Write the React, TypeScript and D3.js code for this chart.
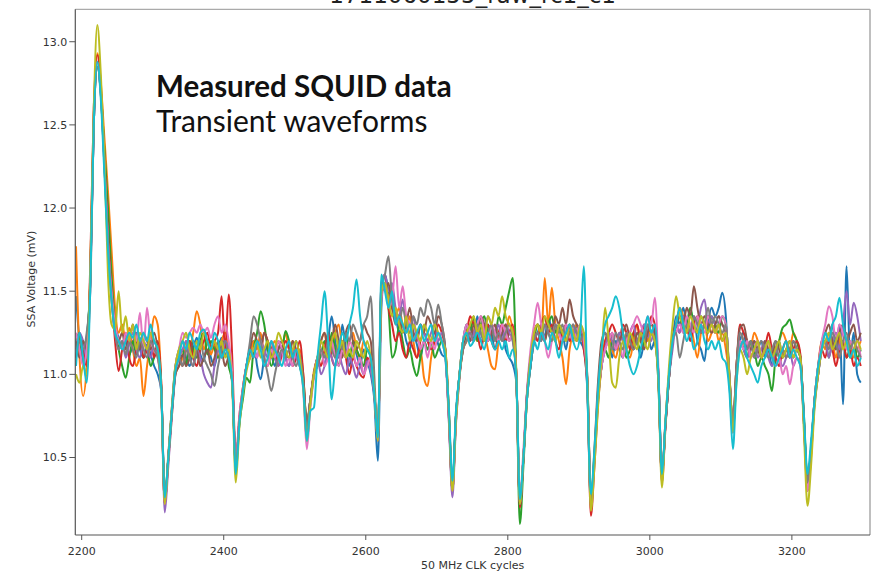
import React from 'react';
import * as d3 from 'd3';

// sample grid (50 MHz CLK cycles)
const cycles: number[] = d3.range(2192, 3298, 5);

const traceBlue = [
  11.47,11.2,11.1,11.22,11.55,12.5,12.85,12.68,12.28,11.82,11.5,11.3,11.22,11.15,11.2,11.12,11.18,11.25,11.15,11.1,
  11.18,11.12,11.05,11.0,10.9,10.25,10.5,10.78,11.05,11.15,11.2,11.1,11.05,11.15,11.22,11.12,11.08,11.2,11.1,11.05,
  11.15,11.22,11.12,11.1,10.95,10.45,10.72,10.9,11.05,11.15,11.2,11.05,10.97,11.1,11.18,11.12,11.05,11.15,11.2,11.1,
  11.05,11.12,11.2,11.1,10.95,10.65,10.82,11.0,11.1,11.15,11.05,11.2,11.35,11.2,11.1,11.3,11.15,11.05,11.18,11.12,
  11.05,11.15,11.08,11.0,10.85,10.48,11.4,11.6,11.5,11.4,11.35,11.25,11.3,11.2,11.15,11.25,11.18,11.1,11.2,11.15,
  11.2,11.25,11.18,11.12,11.1,10.75,10.32,10.75,11.0,11.15,11.25,11.3,11.2,11.35,11.25,11.2,11.3,11.25,11.15,11.2,
  11.25,11.15,11.1,11.06,10.95,10.25,10.5,10.88,11.05,11.2,11.25,11.3,11.22,11.35,11.25,11.2,11.3,11.25,11.15,11.28,
  11.2,11.3,11.2,11.15,10.9,10.22,10.5,10.85,11.05,11.15,11.2,11.1,11.2,11.15,11.1,11.2,11.25,11.15,11.2,11.1,
  11.2,11.25,11.15,11.2,10.95,10.38,10.7,10.98,11.2,11.35,11.3,11.4,11.3,11.25,11.35,11.2,11.15,11.08,11.3,11.4,
  11.35,11.4,11.49,11.35,10.95,10.65,11.0,11.2,11.25,11.15,11.2,11.1,11.15,11.2,11.1,11.15,11.05,11.15,11.2,11.1,
  11.15,11.2,11.1,11.15,11.1,10.7,10.35,10.55,10.83,11.0,11.15,11.25,11.2,11.3,11.15,11.3,10.82,11.65,11.1,11.25,
  11.0,10.95,
];

const traceOrange = [
  11.77,11.1,10.87,11.05,11.6,12.55,12.93,12.75,12.42,12.1,11.75,11.4,11.25,11.3,11.2,11.28,11.15,11.05,11.1,10.87,
  11.05,11.2,11.35,11.3,10.95,10.22,10.48,10.75,11.0,11.05,11.1,11.2,11.15,11.25,11.38,11.3,11.15,11.2,11.12,11.18,
  11.1,11.2,11.25,11.15,10.95,10.42,10.7,10.92,11.05,11.1,11.2,11.15,11.25,11.1,11.05,11.15,11.2,11.1,11.15,11.25,
  11.15,11.2,11.1,11.15,11.0,10.68,10.85,11.02,11.1,11.2,11.25,11.1,11.15,11.25,11.3,11.15,11.1,11.2,11.25,11.15,
  11.1,11.2,11.15,11.1,10.9,10.6,11.5,11.55,11.45,11.5,11.35,11.4,11.3,11.25,11.35,11.2,11.1,11.15,10.98,10.93,
  11.1,11.2,11.25,11.2,11.15,10.78,10.3,10.72,10.98,11.15,11.2,11.3,11.25,11.2,11.3,11.25,11.15,11.05,11.03,11.2,
  11.3,11.25,11.35,11.25,11.0,10.22,10.5,10.85,11.05,11.25,11.3,11.2,11.58,11.3,11.52,11.3,11.2,11.1,10.94,11.15,
  11.25,11.3,11.2,11.25,10.95,10.25,10.52,10.88,11.1,11.2,11.25,11.15,11.1,11.2,11.25,11.15,11.1,11.2,11.3,11.2,
  11.25,11.2,11.3,11.25,11.0,10.4,10.72,11.0,11.2,11.3,11.4,11.35,11.25,11.3,11.2,11.1,11.25,11.3,11.2,11.25,
  11.3,11.2,11.25,11.15,10.98,10.68,11.05,11.25,11.2,11.1,11.15,11.25,11.2,11.1,11.15,11.2,11.1,11.15,11.2,11.25,
  11.2,11.15,11.25,11.2,11.1,10.72,10.3,10.5,10.85,11.05,11.2,11.15,11.25,11.2,11.1,11.2,11.25,11.15,11.2,11.1,
  11.15,11.2,
];

const traceGreen = [
  11.2,11.25,11.05,11.2,11.55,12.55,12.85,12.7,12.35,12.0,11.6,11.3,11.15,11.05,10.98,11.1,11.2,11.12,11.2,11.1,
  11.15,11.05,11.1,11.15,10.92,10.25,10.52,10.8,11.05,11.1,11.15,11.05,11.2,11.15,11.1,11.2,11.25,11.12,11.2,11.15,
  11.1,11.15,11.2,11.05,10.95,10.45,10.7,10.85,10.98,10.95,11.15,11.25,11.38,11.3,11.15,11.05,11.12,11.2,11.15,11.26,
  11.2,11.1,11.15,11.05,10.95,10.7,10.85,11.0,11.05,11.12,11.2,11.1,11.25,11.15,11.05,11.15,11.25,11.1,11.2,11.15,
  11.1,11.05,11.15,11.1,10.9,10.62,11.5,11.55,11.4,11.1,11.15,11.3,11.2,11.1,11.15,11.05,10.99,11.1,11.2,11.15,
  11.2,11.1,11.15,11.2,11.12,10.75,10.3,10.75,11.0,11.2,11.3,11.25,11.35,11.2,11.3,11.35,11.25,11.3,11.2,11.35,
  11.3,11.4,11.5,11.58,11.0,10.1,10.45,10.85,11.05,11.2,11.3,11.25,11.2,11.3,11.35,11.25,11.3,11.2,11.25,11.3,
  11.2,11.25,11.3,11.2,10.95,10.25,10.5,10.85,11.05,11.15,11.1,11.2,11.15,11.25,11.2,11.1,11.15,11.25,11.2,11.15,
  11.2,11.3,11.25,11.2,10.98,10.38,10.7,10.98,11.2,11.3,11.35,11.25,11.3,11.4,11.3,11.25,11.35,11.3,11.25,11.35,
  11.3,11.25,11.35,11.3,11.0,10.68,11.0,11.2,11.15,11.1,11.2,11.15,11.05,11.1,11.05,11.0,10.9,11.1,11.2,11.28,
  11.3,11.33,11.25,11.2,11.1,10.75,10.35,10.55,10.85,11.05,11.15,11.2,11.1,11.2,11.25,11.15,11.2,11.1,11.15,11.2,
  11.1,11.15,
];

const traceRed = [
  11.1,11.2,11.15,11.05,11.65,12.6,12.92,12.72,12.3,11.85,11.5,11.2,11.02,11.15,11.25,11.1,11.05,11.15,11.22,11.1,
  11.15,11.2,11.1,11.2,10.95,10.22,10.5,10.78,11.02,11.1,11.05,11.15,11.2,11.1,11.05,11.15,11.2,11.25,11.15,11.2,
  11.25,11.47,11.15,11.48,11.1,10.48,10.75,10.92,11.05,11.15,11.1,11.2,11.15,11.25,11.2,11.1,11.15,11.05,11.12,11.2,
  11.15,11.05,11.1,11.2,11.0,10.68,10.85,11.0,11.1,11.05,11.15,11.25,11.1,11.05,11.15,11.2,11.1,11.0,11.1,11.05,
  11.0,10.98,11.1,11.05,10.88,10.62,11.5,11.6,11.4,11.3,11.2,11.25,11.15,11.1,11.2,11.15,11.1,11.2,11.25,11.2,
  11.15,11.2,11.3,11.25,11.15,10.78,10.32,10.75,11.0,11.2,11.25,11.35,11.3,11.25,11.15,11.25,11.3,11.2,11.15,11.25,
  11.3,11.2,11.25,11.3,11.0,10.2,10.5,10.88,11.1,11.25,11.2,11.3,11.35,11.25,11.3,11.2,11.15,11.25,11.3,11.2,
  11.25,11.2,11.3,11.15,10.92,10.15,10.45,10.82,11.05,11.2,11.25,11.3,11.25,11.2,11.3,11.25,11.15,11.25,11.3,11.2,
  11.3,11.25,11.35,11.3,11.0,10.35,10.68,10.98,11.2,11.3,11.25,11.35,11.3,11.2,11.3,11.35,11.25,11.3,11.35,11.3,
  11.25,11.3,11.2,11.25,10.98,10.7,11.05,11.3,11.25,11.2,11.1,11.15,11.2,11.1,11.15,11.25,11.15,11.1,11.05,11.15,
  11.2,11.1,11.15,11.2,11.12,10.72,10.38,10.55,10.85,11.0,11.15,11.1,11.2,11.15,11.05,11.15,11.2,11.1,11.15,11.05,
  11.1,11.05,
];

const tracePurple = [
  11.15,11.25,11.2,11.1,11.5,12.5,12.85,12.68,12.25,11.8,11.45,11.25,11.15,11.2,11.1,11.18,11.25,11.15,11.1,11.2,
  11.15,11.1,11.2,11.12,10.9,10.17,10.45,10.75,11.0,11.1,11.15,11.2,11.1,11.05,11.15,11.1,11.0,10.95,10.92,11.05,
  11.15,11.1,11.2,11.15,10.95,10.45,10.72,10.9,11.05,11.1,11.15,11.1,11.2,11.15,11.1,11.2,11.1,11.05,11.15,11.1,
  11.05,11.15,11.1,11.05,10.95,10.68,10.85,11.0,11.1,11.0,11.05,11.15,11.1,11.05,11.12,11.05,11.0,11.1,11.05,10.98,
  11.05,11.0,11.08,11.02,10.88,10.6,11.55,11.6,11.5,11.55,11.4,11.35,11.45,11.3,11.25,11.35,11.2,11.3,11.25,11.2,
  11.25,11.3,11.2,11.25,11.15,10.72,10.26,10.7,10.98,11.2,11.3,11.2,11.25,11.3,11.2,11.25,11.35,11.3,11.25,11.3,
  11.2,11.3,11.25,11.2,10.98,10.22,10.5,10.85,11.05,11.2,11.25,11.2,11.3,11.25,11.2,11.3,11.25,11.2,11.3,11.25,
  11.3,11.2,11.25,11.2,10.95,10.2,10.5,10.85,11.05,11.15,11.25,11.2,11.15,11.25,11.2,11.15,11.25,11.3,11.2,11.25,
  11.3,11.25,11.2,11.3,11.0,10.38,10.7,10.98,11.15,11.3,11.25,11.35,11.3,11.25,11.35,11.3,11.4,11.45,11.3,11.35,
  11.3,11.35,11.3,11.25,10.98,10.65,11.0,11.2,11.15,11.1,11.15,11.2,11.1,11.15,11.2,11.1,11.05,11.15,11.1,11.05,
  11.1,11.15,11.05,11.1,11.05,10.7,10.3,10.52,10.82,11.0,11.15,11.2,11.1,11.2,11.25,11.15,11.3,11.5,11.3,11.43,
  11.35,11.2,
];

const traceBrown = [
  11.2,11.1,11.2,11.15,11.55,12.5,12.88,12.7,12.28,11.8,11.5,11.3,11.2,11.25,11.15,11.2,11.3,11.2,11.15,11.25,
  11.2,11.15,11.25,11.15,10.92,10.22,10.5,10.78,11.0,11.05,11.12,11.05,11.1,11.2,11.15,11.05,11.1,11.15,11.05,11.1,
  11.2,11.15,11.05,11.1,10.95,10.45,10.72,10.9,11.05,11.15,11.25,11.2,11.15,11.25,11.2,11.15,11.1,11.15,11.2,11.12,
  11.1,11.2,11.15,11.1,10.98,10.7,10.85,11.0,11.1,11.2,11.25,11.15,11.2,11.3,11.2,11.1,11.25,11.3,11.2,11.15,
  11.2,11.3,11.25,11.2,10.9,10.62,11.55,11.5,11.55,11.4,11.3,11.35,11.25,11.3,11.4,11.25,11.2,11.3,11.25,11.35,
  11.3,11.25,11.35,11.3,11.15,10.75,10.3,10.75,11.0,11.15,11.25,11.2,11.3,11.25,11.35,11.3,11.2,11.25,11.3,11.2,
  11.25,11.3,11.2,11.25,11.0,10.22,10.5,10.88,11.05,11.25,11.3,11.25,11.2,11.3,11.25,11.35,11.3,11.4,11.3,11.45,
  11.35,11.3,11.25,11.2,10.98,10.22,10.55,10.95,11.2,11.25,11.2,11.25,11.15,11.2,11.25,11.3,11.2,11.15,11.25,11.2,
  11.15,11.25,11.3,11.25,11.0,10.38,10.7,10.98,11.2,11.3,11.35,11.3,11.4,11.35,11.53,11.4,11.3,11.35,11.3,11.25,
  11.3,11.35,11.3,11.25,11.0,10.68,11.05,11.28,11.3,11.2,11.15,11.2,11.15,11.1,11.2,11.15,11.1,11.2,11.15,11.1,
  11.15,11.1,11.2,11.15,11.1,10.72,10.35,10.55,10.85,11.05,11.2,11.25,11.3,11.2,11.15,11.25,11.3,11.2,11.25,11.3,
  11.2,11.25,
];

const tracePink = [
  11.25,11.15,11.05,11.15,11.55,12.55,12.88,12.7,12.28,11.8,11.5,11.3,11.2,11.15,11.25,11.2,11.28,11.2,11.37,11.15,
  11.4,11.2,11.15,11.1,10.9,10.22,10.5,10.8,11.05,11.15,11.25,11.22,11.25,11.28,11.25,11.3,11.25,11.28,11.22,11.3,
  11.35,11.25,11.3,11.2,11.0,10.48,10.75,10.92,11.05,11.1,11.15,11.1,11.2,11.1,11.05,11.15,11.1,11.2,11.15,11.05,
  11.1,11.05,11.15,11.1,10.9,10.55,10.8,10.98,11.1,11.15,11.05,11.1,11.2,11.1,11.05,11.15,11.1,11.2,11.15,11.05,
  11.1,11.0,11.05,11.1,10.9,10.62,11.45,11.55,11.4,11.45,11.65,11.4,11.53,11.35,11.3,11.2,11.25,11.15,11.2,11.1,
  11.2,11.15,11.25,11.2,11.1,10.72,10.3,10.72,11.0,11.2,11.3,11.25,11.2,11.3,11.35,11.25,11.2,11.3,11.25,11.2,
  11.3,11.25,11.2,11.25,11.0,10.25,10.55,10.9,11.15,11.3,11.43,11.3,11.2,11.1,11.2,11.3,11.25,11.2,11.3,11.25,
  11.2,11.25,11.3,11.2,10.95,10.22,10.5,10.85,11.05,11.15,11.2,11.25,11.15,11.2,11.1,11.2,11.25,11.3,11.35,11.3,
  11.25,11.35,11.3,11.46,11.05,10.38,10.72,11.0,11.2,11.25,11.3,11.25,11.35,11.3,11.25,11.35,11.3,11.25,11.35,11.3,
  11.25,11.3,11.35,11.3,11.0,10.65,11.0,11.2,11.15,11.2,11.1,11.15,11.2,11.1,11.15,11.2,11.1,11.05,11.1,11.0,
  11.05,10.94,11.05,11.1,11.05,10.7,10.3,10.52,10.85,11.05,11.2,11.3,11.41,11.35,11.2,11.3,11.25,11.15,11.2,11.15,
  11.2,11.1,
];

const traceGray = [
  11.1,11.2,11.15,11.25,11.5,12.5,12.85,12.68,12.25,11.8,11.45,11.25,11.15,11.2,11.12,11.2,11.15,11.1,11.2,11.15,
  11.1,11.2,11.15,11.1,10.92,10.25,10.5,10.78,11.02,11.1,11.05,11.15,11.1,11.05,11.15,11.2,11.1,11.05,11.0,10.93,
  11.05,11.15,11.2,11.1,10.95,10.45,10.72,10.9,11.05,11.2,11.35,11.3,11.2,11.1,11.0,10.9,11.0,11.1,11.15,11.1,
  11.15,11.1,11.05,11.12,10.95,10.68,10.85,11.0,11.05,11.15,11.1,11.2,11.15,11.1,11.2,11.15,11.25,11.2,11.3,11.25,
  11.2,11.3,11.35,11.47,11.0,10.62,11.5,11.6,11.71,11.45,11.35,11.3,11.4,11.3,11.25,11.35,11.3,11.4,11.35,11.45,
  11.4,11.3,11.42,11.3,11.15,10.75,10.32,10.75,11.0,11.15,11.2,11.25,11.2,11.3,11.25,11.2,11.25,11.3,11.2,11.25,
  11.2,11.25,11.3,11.2,10.98,10.22,10.5,10.88,11.1,11.2,11.25,11.2,11.3,11.25,11.2,11.3,11.25,11.3,11.2,11.25,
  11.3,11.25,11.2,11.25,10.98,10.22,10.52,10.9,11.15,11.25,11.2,11.15,11.25,11.2,11.15,11.25,11.2,11.15,11.2,11.25,
  11.2,11.3,11.25,11.2,11.0,10.38,10.7,10.98,11.2,11.25,11.1,11.2,11.3,11.25,11.35,11.3,11.25,11.3,11.4,11.3,
  11.35,11.3,11.25,11.3,11.0,10.7,11.05,11.25,11.2,11.15,11.2,11.1,11.15,11.2,11.15,11.1,11.15,11.2,11.1,11.15,
  11.1,11.15,11.2,11.15,11.1,10.72,10.35,10.55,10.85,11.0,11.15,11.2,11.15,11.25,11.2,11.1,11.2,11.25,11.15,11.2,
  11.15,11.1,
];

const traceOlive = [
  11.0,10.95,11.05,11.0,11.6,12.6,13.1,12.8,12.3,11.6,11.3,11.27,11.5,11.25,11.35,11.2,11.3,11.15,11.25,11.2,
  11.15,11.25,11.2,11.15,10.9,10.22,10.5,10.8,11.05,11.15,11.2,11.25,11.15,11.1,11.2,11.15,11.25,11.2,11.15,11.2,
  11.15,11.2,11.1,11.15,10.92,10.35,10.68,10.88,11.02,11.1,11.15,11.2,11.1,11.15,11.2,11.1,11.15,11.25,11.2,11.15,
  11.1,11.15,11.2,11.1,10.92,10.6,10.82,11.0,11.1,11.2,11.15,11.1,11.2,11.25,11.15,11.2,11.1,11.15,11.1,11.2,
  11.15,11.1,11.2,11.1,10.9,10.6,11.5,11.55,11.45,11.35,11.4,11.3,11.25,11.35,11.2,11.3,11.25,11.2,11.3,11.25,
  11.2,11.3,11.25,11.2,11.15,10.78,10.3,10.72,11.0,11.2,11.25,11.3,11.35,11.25,11.3,11.2,11.35,11.3,11.4,11.35,
  11.47,11.35,11.3,11.25,11.0,10.22,10.5,10.85,11.1,11.25,11.3,11.25,11.35,11.3,11.25,11.2,11.3,11.25,11.2,11.3,
  11.25,11.2,11.3,11.25,10.95,10.18,10.45,10.8,11.1,11.4,11.2,10.95,10.92,11.1,11.2,11.15,11.25,11.2,11.15,11.25,
  11.2,11.15,11.25,11.2,10.95,10.32,10.72,11.05,11.3,11.47,11.35,11.3,11.25,11.35,11.3,11.25,11.35,11.3,11.25,11.3,
  11.25,11.3,11.2,11.25,10.98,10.65,10.95,11.15,11.1,11.0,11.1,11.15,11.2,11.1,11.15,11.2,11.1,11.15,11.2,11.1,
  11.15,11.2,11.1,11.15,11.1,10.65,10.21,10.45,10.8,11.0,11.15,11.2,11.25,11.15,11.2,11.25,11.15,11.2,11.1,11.15,
  11.2,11.15,
];

const traceCyan = [
  11.05,11.25,11.1,10.95,11.5,12.5,12.88,12.65,12.2,11.75,11.45,11.25,11.2,11.15,11.2,11.25,11.22,11.3,11.2,11.25,
  11.2,11.3,11.2,11.15,10.92,10.26,10.5,10.78,11.02,11.1,11.2,11.15,11.25,11.2,11.15,11.25,11.27,11.2,11.15,11.25,
  11.2,11.1,11.15,11.1,10.95,10.4,10.7,10.9,11.05,11.15,11.1,11.2,11.15,11.05,11.1,11.2,11.15,11.1,11.05,11.15,
  11.2,11.1,11.15,11.05,10.92,10.6,10.78,10.8,11.1,11.3,11.5,11.2,10.85,11.05,11.15,11.25,11.2,11.3,11.4,11.57,
  11.35,11.2,11.15,11.1,10.88,10.62,11.6,11.5,11.4,11.5,11.3,11.35,11.3,11.25,11.3,11.2,11.25,11.3,11.2,11.25,
  11.3,11.2,11.25,11.2,11.1,10.8,10.36,10.78,11.0,11.2,11.25,11.17,11.2,11.25,11.2,11.15,11.25,11.2,11.15,11.2,
  11.15,11.2,11.1,11.15,10.98,10.25,10.5,10.85,11.05,11.2,11.15,11.25,11.2,11.15,11.25,11.2,11.1,11.2,11.25,11.3,
  11.2,11.15,11.25,11.65,10.9,10.28,10.55,10.9,11.15,11.3,11.35,11.4,11.47,11.4,11.25,11.15,11.05,11.0,11.05,11.15,
  11.25,11.35,11.25,11.3,11.0,10.4,10.72,11.0,11.2,11.3,11.4,11.3,11.2,11.25,11.15,11.2,11.3,11.2,11.15,11.2,
  11.15,11.2,11.1,11.07,10.9,10.55,10.95,11.15,11.2,11.1,11.05,11.0,10.95,11.05,11.1,11.15,11.1,11.05,11.1,11.15,
  11.2,11.1,11.15,11.1,11.05,10.75,10.4,10.6,10.85,11.05,11.15,11.25,11.2,11.3,11.35,11.46,11.3,11.2,11.1,11.15,
  11.05,11.1,
];

const seriesColors = ['#1f77b4', '#ff7f0e', '#2ca02c', '#d62728', '#9467bd', '#8c564b', '#e377c2', '#7f7f7f', '#bcbd22', '#17becf'];
const seriesValues = [traceBlue, traceOrange, traceGreen, traceRed, tracePurple, traceBrown, tracePink, traceGray, traceOlive, traceCyan];

const xTicks = [2200, 2400, 2600, 2800, 3000, 3200];
const yTicks = [10.5, 11.0, 11.5, 12.0, 12.5, 13.0];

const titleText = '1711060155_raw_rc1_c1';
const xLabel = '50 MHz CLK cycles';
const yLabel = 'SSA Voltage (mV)';
const noteBold = 'Measured SQUID data';
const noteRegular = 'Transient waveforms';

export default function App() {
  const W = 884, H = 573;
  const left = 75.3, right = 870, top = 9.3, bottom = 535;
  const x = d3.scaleLinear().domain([2191, 3310]).range([left, right]);
  const y = d3.scaleLinear().domain([10.034, 13.195]).range([bottom, top]);
  const line = d3
    .line<number>()
    .x((_, i) => x(cycles[i]))
    .y((d) => y(d))
    .curve(d3.curveMonotoneX);
  const tickFont = 'DejaVu Sans, sans-serif';

  return (
    <svg width={W} height={H} style={{ position: 'absolute', left: 0, top: 0, background: '#fff' }}>
      <rect x={0} y={0} width={W} height={H} fill="#fff" />
      <defs>
        <clipPath id="plotClip">
          <rect x={left} y={top} width={right - left} height={bottom - top} />
        </clipPath>
      </defs>
      <text x={(left + right) / 2} y={3} textAnchor="middle" fontFamily={tickFont} fontSize={23} fill="#222">
        {titleText}
      </text>
      <g clipPath="url(#plotClip)">
        {seriesValues.map((vals, k) => (
          <path key={k} d={line(vals) || ''} fill="none" stroke={seriesColors[k]} strokeWidth={2} strokeLinejoin="round" />
        ))}
      </g>
      {/* frame */}
      <line x1={left} x2={right} y1={top} y2={top} stroke="#aaa" strokeWidth={1.2} />
      <line x1={right} x2={right} y1={top} y2={bottom} stroke="#aaa" strokeWidth={1.5} />
      <line x1={left} x2={left} y1={top} y2={bottom} stroke="#555" strokeWidth={1.2} />
      <line x1={left} x2={right} y1={bottom} y2={bottom} stroke="#555" strokeWidth={1.2} />
      {/* x ticks */}
      {xTicks.map((t) => (
        <g key={t}>
          <line x1={x(t)} x2={x(t)} y1={bottom} y2={bottom + 5} stroke="#555" strokeWidth={1} />
          <text x={x(t)} y={555} textAnchor="middle" fontFamily={tickFont} fontSize={11} fill="#333">
            {t}
          </text>
        </g>
      ))}
      {/* y ticks */}
      {yTicks.map((t) => (
        <g key={t}>
          <line x1={left - 6} x2={left} y1={y(t)} y2={y(t)} stroke="#555" strokeWidth={1} />
          <text x={left - 8} y={y(t)} dy="0.36em" textAnchor="end" fontFamily={tickFont} fontSize={11} fill="#333">
            {t.toFixed(1)}
          </text>
        </g>
      ))}
      <text x={(left + right) / 2} y={569} textAnchor="middle" fontFamily={tickFont} fontSize={11} fill="#333">
        {xLabel}
      </text>
      <text
        transform={`translate(35, 279) rotate(-90)`}
        textAnchor="middle"
        fontFamily={tickFont}
        fontSize={11}
        fill="#333"
      >
        {yLabel}
      </text>
      <text x={156} y={97} fontFamily="Lato, sans-serif" fontWeight={700} fontSize={29.5} fill="#111">
        {noteBold}
      </text>
      <text x={156} y={132} fontFamily="Lato, sans-serif" fontWeight={400} fontSize={30} fill="#111">
        {noteRegular}
      </text>
    </svg>
  );
}
